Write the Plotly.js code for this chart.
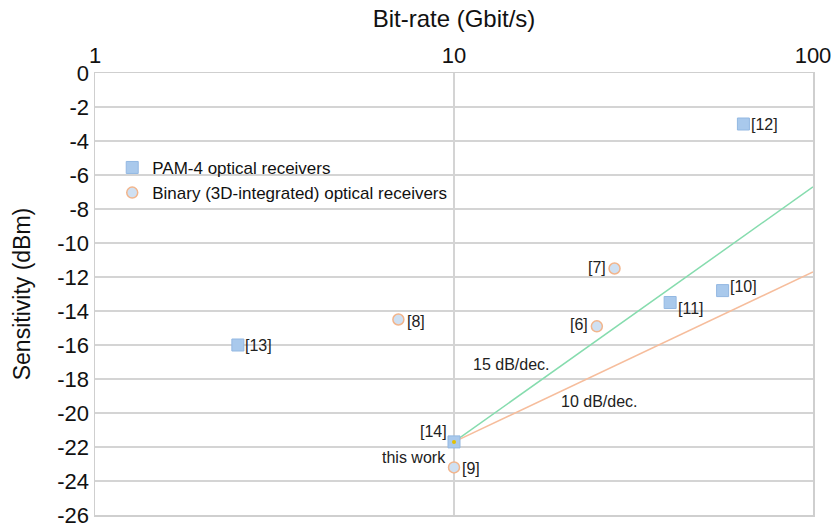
<!DOCTYPE html>
<html>
<head>
<meta charset="utf-8">
<script src="https://cdn.plot.ly/plotly-3.0.1.min.js"></script>
<style>html,body{margin:0;padding:0;background:#fff;}#chart{width:831px;height:527px;}</style>
</head>
<body>
<div id="chart"></div>
<script>
// PAM-4 optical receivers
const pamRate = [64, 56, 40, 2.5, 10];
const pamSens = [-3.0, -12.8, -13.5, -16.0, -21.7];
const pamRefs = ["[12]", "[10]", "[11]", "[13]", "[14]"];
// Binary (3D-integrated) optical receivers
const binRate = [28, 25, 7, 10];
const binSens = [-11.5, -14.9, -14.5, -23.2];
const binRefs = ["[7]", "[6]", "[8]", "[9]"];
// this work
const thisRate = [10];
const thisSens = [-21.7];
// trend lines (start at this work, end at 100 Gbit/s)
const lineRate = [10, 100];
const line15 = [-21.7, -6.7];
const line10 = [-21.7, -11.7];
const xTicks = [1, 10, 100];
const yTicks = [0, -2, -4, -6, -8, -10, -12, -14, -16, -18, -20, -22, -24, -26];

const font = "Liberation Sans, Arial, sans-serif";

const traces = [
  {x: lineRate, y: line15, mode: "lines", line: {color: "#86dcae", width: 1.5}, showlegend: false, hoverinfo: "skip"},
  {x: lineRate, y: line10, mode: "lines", line: {color: "#f6bd9c", width: 1.5}, showlegend: false, hoverinfo: "skip"},
  {x: pamRate, y: pamSens, mode: "markers", name: "PAM-4 optical receivers",
   marker: {symbol: "square", size: 12, color: "#a9c9ec", line: {color: "#93b8e2", width: 1}}},
  {x: binRate, y: binSens, mode: "markers", name: "Binary (3D-integrated) optical receivers",
   marker: {symbol: "circle", size: 11, color: "#cfe0f2", line: {color: "#f2b58c", width: 1.5}}},
  {x: thisRate, y: thisSens, mode: "markers", showlegend: false,
   marker: {symbol: "circle", size: 4, color: "#e3c000"}}
];

// label offsets (style only)
const pamShift = [[21, 0], [21, 4], [21, -6], [21, 0], [-21, 10]];
const binShift = [[-18, 1], [-18, 2], [18, -2], [17, -1]];
const annotations = [];
pamRefs.forEach((t, i) => annotations.push({x: Math.log10(pamRate[i]), y: pamSens[i], text: t, showarrow: false,
  xshift: pamShift[i][0], yshift: pamShift[i][1], font: {family: font, size: 16, color: "#222"}}));
binRefs.forEach((t, i) => annotations.push({x: Math.log10(binRate[i]), y: binSens[i], text: t, showarrow: false,
  xshift: binShift[i][0], yshift: binShift[i][1], font: {family: font, size: 16, color: "#222"}}));
annotations.push({x: Math.log10(thisRate[0]), y: thisSens[0], text: "this work", showarrow: false,
  xanchor: "right", xshift: -6, yshift: -16, font: {family: font, size: 16, color: "#222"}});
annotations.push({xref: "x", yref: "y", x: 1.159, y: -17.15, text: "15 dB/dec.", showarrow: false,
  font: {family: font, size: 16, color: "#222"}});
annotations.push({xref: "x", yref: "y", x: 1.404, y: -19.3, text: "10 dB/dec.", showarrow: false,
  font: {family: font, size: 16, color: "#222"}});

const layout = {
  width: 831, height: 527,
  margin: {l: 95, r: 18, t: 73, b: 12},
  paper_bgcolor: "#fff", plot_bgcolor: "#fff",
  font: {family: font, color: "#111"},
  xaxis: {type: "log", side: "top", range: [0, 2], tickvals: xTicks, ticktext: xTicks.map(String),
    showgrid: true, gridcolor: "#d4d4d4", gridwidth: 1.5, showline: true, mirror: true, linecolor: "#cfcfcf", linewidth: 1.5,
    ticks: "", tickfont: {size: 22, family: font, color: "#111"}, zeroline: false, ticklabeloverflow: "allow",
    title: {text: "Bit-rate (Gbit/s)", font: {size: 24, family: font, color: "#111"}, standoff: 8}},
  yaxis: {range: [-26, 0], tickvals: yTicks, ticktext: yTicks.map(String),
    showgrid: true, gridcolor: "#d4d4d4", gridwidth: 1.5, showline: true, mirror: true, linecolor: "#cfcfcf", linewidth: 1.5,
    ticks: "", tickfont: {size: 22, family: font, color: "#111"}, zeroline: false, ticklabeloverflow: "allow",
    title: {text: "Sensitivity (dBm)", font: {size: 23, family: font, color: "#111"}, standoff: 20}},
  showlegend: true,
  legend: {x: 0.024, y: 0.826, xanchor: "left", yanchor: "top", bgcolor: "rgba(0,0,0,0)",
    font: {size: 17, family: font, color: "#111"}, tracegroupgap: 0, itemwidth: 30},
  annotations: annotations
};

Plotly.newPlot("chart", traces, layout, {displayModeBar: false, staticPlot: true});
</script>
</body>
</html>
